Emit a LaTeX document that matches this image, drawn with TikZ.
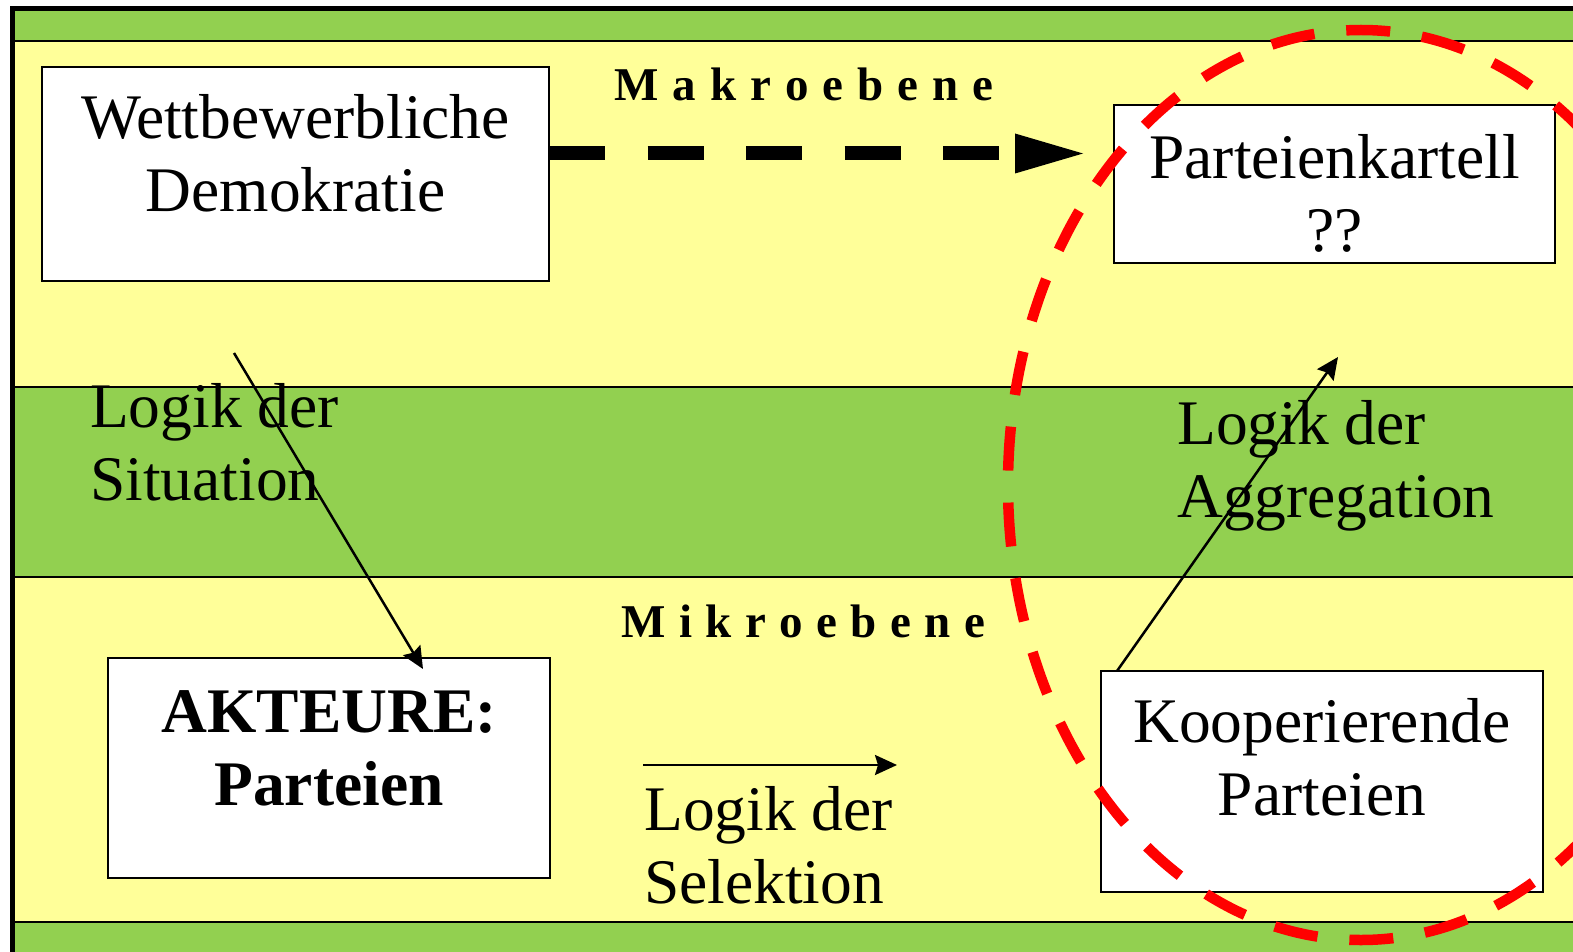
\documentclass[tikz,border=0pt]{standalone}
\usepackage{fontspec}
\setmainfont{Liberation Serif}
\usetikzlibrary{arrows.meta}
\definecolor{bandgreen}{RGB}{146,208,80}
\definecolor{bandyellow}{RGB}{255,255,153}
\begin{document}
\begin{tikzpicture}[x=1pt,y=-1pt,
  bigtext/.style={font=\fontsize{63.5}{73}\selectfont},
  box/.style={bigtext, draw=black, line width=2.5pt, fill=white, inner sep=0pt, anchor=base},
  caption/.style={bigtext, inner sep=0pt, anchor=base west},
  level/.style={inner sep=0pt, anchor=base west, font=\fontsize{47}{56}\selectfont\bfseries},
  flow/.style={line width=2.5pt, -{Stealth[length=22pt,width=20pt,inset=3pt]}},
  bandline/.style={line width=2.5pt},
  redring/.style={draw=red, line width=10.5pt, dash pattern=on 44pt off 32pt},
]
\useasboundingbox (0,0) rectangle (1573,952);

% background bands
\fill[bandgreen] (12,8) rectangle (1573,952);
\fill[bandyellow] (12,41) rectangle (1573,387);
\fill[bandyellow] (12,577) rectangle (1573,922);
\foreach \yy in {41,387,577,922} \draw[bandline] (12,\yy) -- (1573,\yy);
\draw[line width=5pt] (1573,8.5) -- (12.5,8.5) -- (12.5,952);

% level titles
\node[level] (makro) at (614,101) {\spaceskip=14pt M a k r o e b e n e};
\node[level] (mikro) at (621,637) {\spaceskip=13.5pt M i k r o e b e n e};

% boxes (anchored at the baseline of the first line)
\node[box, minimum width=507pt, text height=72pt, text depth=142pt] (W) at (295.5,139)
  {\begin{tabular}[t]{@{}c@{}}Wettbewerbliche\\Demokratie\end{tabular}};
\node[box, minimum width=441pt, text height=73.5pt, text depth=84.5pt] (P) at (1334.5,178.5)
  {\begin{tabular}[t]{@{}c@{}}Parteienkartell\\??\end{tabular}};
\node[box, minimum width=442pt, text height=74pt, text depth=146pt] (A) at (329,732)
  {\begin{tabular}[t]{@{}c@{}}\bfseries AKTEURE:\\\bfseries Parteien\end{tabular}};
\node[box, minimum width=442pt, text height=71pt, text depth=150pt] (K) at (1322,742)
  {\begin{tabular}[t]{@{}c@{}}Kooperierende\\Parteien\end{tabular}};

% logic labels
\node[caption] (situation) at (90,427)
  {\begin{tabular}[t]{@{}l@{}}Logik der\\Situation\end{tabular}};
\node[caption] (aggregation) at (1177,444)
  {\begin{tabular}[t]{@{}l@{}}Logik der\\Aggregation\end{tabular}};
\node[caption] (selektion) at (644,830)
  {\begin{tabular}[t]{@{}l@{}}Logik der\\Selektion\end{tabular}};

% connectors
\coordinate (dA) at (549,153.5);
\coordinate (dB) at (1083,153.5);
\draw[line width=14pt, dash pattern=on 56pt off 42.5pt,
      -{Triangle[length=68pt,width=40pt,line width=0pt]}] (dA) -- (dB);

\coordinate (sitA) at (234,353);
\coordinate (sitB) at (423,669);
\draw[flow] (sitA) -- (sitB);

\coordinate (aggA) at (1117,671);
\coordinate (aggB) at (1338,357);
\draw[flow] (aggA) -- (aggB);

\coordinate (selA) at (643,765);
\coordinate (selB) at (897,765);
\draw[flow] (selA) -- (selB);

% dashed ring round the cartel side
\path[redring] (1361,485) ellipse [x radius=353pt, y radius=455pt];
\end{tikzpicture}
\end{document}
